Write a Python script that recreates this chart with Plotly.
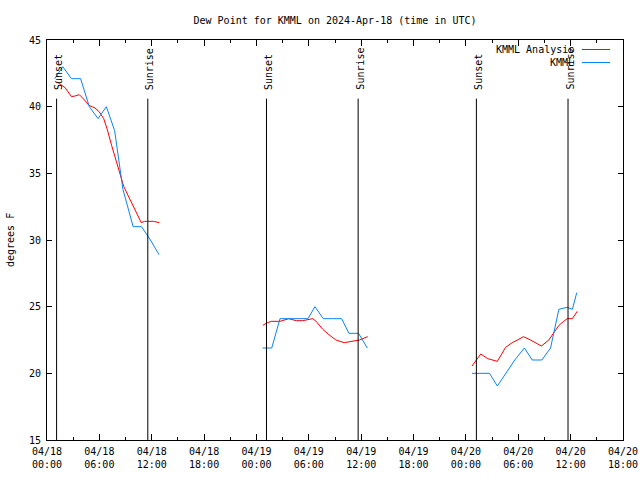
import plotly.graph_objects as go
import pandas as pd

# ---------------- data (hours after 2024-04-18 00:00 UTC) ----------------
base = pd.Timestamp("2024-04-18 00:00")

obs1_h = [0.9, 1.8, 2.8, 3.85, 4.85, 5.85, 6.8, 7.75, 8.7, 9.87, 10.83, 11.85, 12.84]
obs1_v = [42.1, 43.0, 42.1, 42.1, 40.0, 39.1, 40.0, 38.2, 33.8, 31.0, 31.0, 30.0, 28.9]
obs2_h = [24.7, 25.75, 26.7, 27.7, 28.8, 29.9, 30.7, 31.65, 32.7, 33.76, 34.6, 35.7, 36.7]
obs2_v = [21.9, 21.9, 24.1, 24.1, 24.1, 24.1, 25.0, 24.1, 24.1, 24.1, 23.0, 23.0, 21.9]
obs3_h = [48.7, 49.7, 50.7, 51.6, 52.6, 53.6, 54.7, 55.6, 56.7, 57.7, 58.65, 59.6, 60.2, 60.7]
obs3_v = [20.0, 20.0, 20.0, 19.05, 20.0, 21.0, 21.9, 21.0, 21.0, 21.9, 24.8, 24.95, 24.8, 26.05]

ana1_h = [0.9, 1.4, 2.1, 2.8, 3.2, 3.7, 4.3, 4.8, 5.5, 6.0, 6.5, 6.9, 7.4, 7.9, 8.4, 8.8,
          10.8, 11.2, 12.2, 12.85]
ana1_v = [41.9, 41.75, 41.4, 40.75, 40.8, 40.9, 40.5, 40.1, 39.9, 39.6, 39.1, 38.3, 37.1, 36.0,
          35.0, 34.0, 31.3, 31.4, 31.4, 31.3]
ana2_h = [24.73, 25.1, 25.7, 26.7, 27.7, 28.55, 29.3, 29.9, 30.45, 30.84, 31.6, 32.3, 33.1,
          34.05, 34.85, 35.8, 36.75]
ana2_v = [23.6, 23.75, 23.9, 23.9, 24.1, 23.95, 23.95, 24.05, 24.1, 23.9, 23.3, 22.9, 22.5,
          22.3, 22.4, 22.5, 22.75]
ana3_h = [48.7, 49.7, 50.5, 51.05, 51.6, 52.55, 53.3, 53.9, 54.6, 55.4, 56.15, 56.65, 57.5,
          58.3, 58.66, 59.2, 59.6, 60.2, 60.75]
ana3_v = [20.55, 21.45, 21.1, 21.0, 20.9, 21.95, 22.3, 22.5, 22.75, 22.5, 22.25, 22.05, 22.5,
          23.3, 23.6, 23.9, 24.1, 24.1, 24.65]

sunset_h = [1.1, 25.15, 49.2]
sunrise_h = [11.55, 35.65, 59.7]

y_ticks = [15, 20, 25, 30, 35, 40, 45]
title_text = "Dew Point for KMML on 2024-Apr-18 (time in UTC)"
y_title = "degrees F"
series_names = ["KMML Analysis", "KMML"]
event_names = ["Sunset", "Sunrise"]

# ---------------- helpers ----------------
def to_t(hours):
    return [base + pd.Timedelta(hours=h) for h in hours]

def join(segs):
    xs, ys = [], []
    for h, v in segs:
        xs += to_t(h) + [None]
        ys += list(v) + [None]
    return xs, ys

RED = "#ff0000"
BLUE = "#0a84f5"
FONT = "DejaVu Sans Mono"

L, R, T, B = 47, 17, 40, 40
W, H = 640, 480
PW = W - L - R
PH = H - T - B

fig = go.Figure()
ax, ay = join([(ana1_h, ana1_v), (ana2_h, ana2_v), (ana3_h, ana3_v)])
ox, oy = join([(obs1_h, obs1_v), (obs2_h, obs2_v), (obs3_h, obs3_v)])
fig.add_trace(go.Scatter(x=ax, y=ay, mode="lines", line=dict(color=RED, width=1),
                         name=series_names[0], showlegend=False, connectgaps=False))
fig.add_trace(go.Scatter(x=ox, y=oy, mode="lines", line=dict(color=BLUE, width=1),
                         name=series_names[1], showlegend=False, connectgaps=False))

# sunrise / sunset markers
for name, hours in zip(event_names, [sunset_h, sunrise_h]):
    for t in to_t(hours):
        fig.add_shape(type="line", xref="x", yref="y", x0=t, x1=t, y0=15, y1=40.6,
                      line=dict(color="black", width=1))
        fig.add_annotation(x=t, xref="x", y=41.1, yref="y", text=name, textangle=-90,
                           showarrow=False, xanchor="center", yanchor="bottom",
                           xshift=1.5, font=dict(family=FONT, size=10, color="black"))

# manual legend (text right, sample line right of it)
def px_x(p):
    return (p - L) / PW

def px_y(p):
    return (H - B - p) / PH

for name, col, yp in [(series_names[0], RED, 49.5), (series_names[1], BLUE, 62.5)]:
    fig.add_annotation(x=px_x(576), y=px_y(yp), xref="paper", yref="paper", text=name,
                       showarrow=False, xanchor="right", yanchor="middle",
                       font=dict(family=FONT, size=10, color="black"))
    fig.add_shape(type="line", xref="paper", yref="paper", x0=px_x(582), x1=px_x(610),
                  y0=px_y(yp), y1=px_y(yp), line=dict(color=col, width=1))

# y axis title
fig.add_annotation(x=px_x(10), y=0.5, xref="paper", yref="paper", text=y_title,
                   textangle=-90, showarrow=False, xanchor="center", yanchor="middle",
                   font=dict(family=FONT, size=10, color="black"))

fig.update_layout(
    width=W, height=H,
    margin=dict(l=L, r=R, t=T, b=B, autoexpand=False),
    paper_bgcolor="white", plot_bgcolor="white",
    title=dict(text=title_text, x=0.5, xref="paper", xanchor="center",
               y=1 - 20 / H, yref="container", yanchor="middle",
               font=dict(family=FONT, size=10, color="black")),
    font=dict(family=FONT, size=10, color="black"),
    showlegend=False,
)
fig.update_xaxes(
    type="date",
    range=[base, base + pd.Timedelta(hours=66)],
    tick0=base, dtick=6 * 3600 * 1000, tickformat="%m/%d<br>%H:%M",
    ticks="inside", ticklen=6, tickcolor="black", mirror="allticks",
    showline=True, linecolor="black", linewidth=1, showgrid=False, zeroline=False,
    minor=dict(dtick=3 * 3600 * 1000, ticks="inside", ticklen=3, tickcolor="black",
               showgrid=False),
    tickfont=dict(family=FONT, size=10, color="black"), ticklabelstandoff=2,
    automargin=False,
)
fig.update_yaxes(
    range=[15, 45], tickvals=y_ticks, ticktext=[str(v) for v in y_ticks],
    ticks="inside", ticklen=5, tickcolor="black", mirror="allticks",
    showline=True, linecolor="black", linewidth=1, showgrid=False, zeroline=False,
    tickfont=dict(family=FONT, size=10, color="black"), ticklabelstandoff=3,
    automargin=False,
)

fig.write_html(
    "out.html",
    config={"displayModeBar": False},
    post_script="document.body.style.margin='0';document.body.style.overflow='hidden';",
)
